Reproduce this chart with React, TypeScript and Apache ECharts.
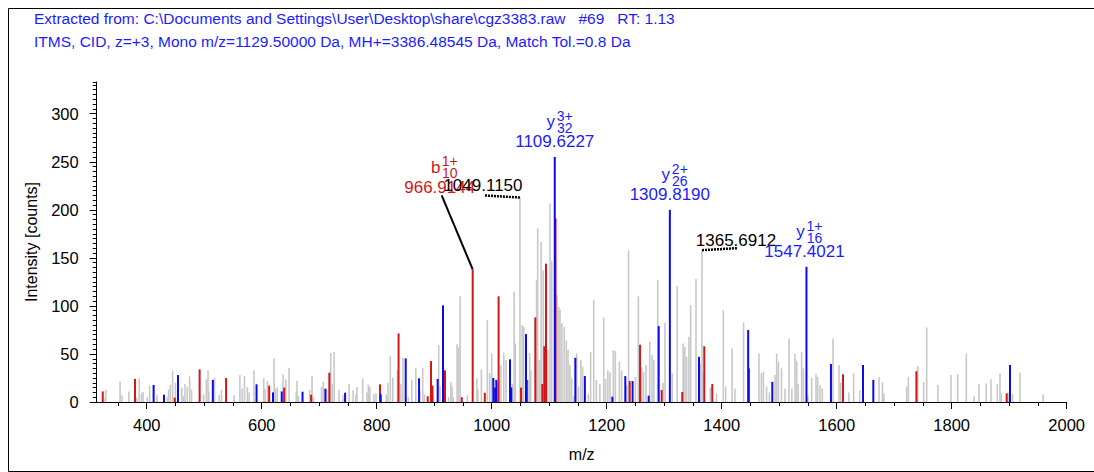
import React, { useEffect, useRef } from 'react';
import * as echarts from 'echarts';

const TITLE_LINE_1 = 'Extracted from: C:\\Documents and Settings\\User\\Desktop\\share\\cgz3383.raw   #69   RT: 1.13';
const TITLE_LINE_2 = 'ITMS, CID, z=+3, Mono m/z=1129.50000 Da, MH+=3386.48545 Da, Match Tol.=0.8 Da';
const X_NAME = 'm/z';
const Y_NAME = 'Intensity [counts]';

const X_MIN = 313;
const X_MAX = 2000;
const Y_MIN = 0;
const Y_MAX = 333;
const X_TICKS = [400, 600, 800, 1000, 1200, 1400, 1600, 1800, 2000];
const X_MINOR_TICKS = [350, 400, 450, 500, 550, 600, 650, 700, 750, 800, 850, 900, 950, 1000, 1050, 1100, 1150, 1200, 1250, 1300, 1350, 1400, 1450, 1500, 1550, 1600, 1650, 1700, 1750, 1800, 1850, 1900, 1950, 2000];
const Y_TICKS = [0, 50, 100, 150, 200, 250, 300];
const Y_MINOR_INTERVAL = 5;

// unassigned peaks [m/z, intensity]
const GRAY_PEAKS = [
  [327.5, 4], [329, 13], [353.6, 21], [357, 7], [369, 11], [383, 4.5], [387, 24.6], [391, 9], [393.6, 10.7],
  [401, 5], [405, 17], [418, 7], [436, 5], [438, 13], [441, 17.7], [445, 33], [450, 20], [461, 15], [464, 6],
  [466.6, 18.7], [470.6, 16], [474.7, 26.7], [478, 13], [499, 8], [503.7, 23.6], [506.6, 33], [508, 11],
  [518, 25], [526, 7], [530, 12.5], [552, 7], [562, 28], [566, 14], [570, 27], [575, 15.6], [578, 10],
  [586.6, 33], [603.5, 24.6], [605.7, 13.5], [610, 22], [621.4, 45.4], [624, 14], [627, 15], [637, 29],
  [642, 23.6], [647.5, 35.4], [660, 11], [661.4, 22], [664, 6], [683.5, 12.5], [687.5, 27], [690, 5],
  [704, 15.6], [707, 21], [713, 13], [720, 51], [722.8, 18.7], [726, 52], [734.4, 12.8], [741, 7],
  [752, 18.7], [759, 12.5], [763.5, 7.6], [765.7, 15.6], [775.6, 24.6], [783, 10], [785.4, 18], [788, 15.6],
  [795, 8], [798.8, 9.4], [816.7, 8], [819.6, 20], [823.7, 48], [828, 25.6], [836, 33], [842, 18.7],
  [845.7, 46], [855, 5], [861, 23], [868, 35], [875, 12], [880, 35.7], [883, 8], [898, 8], [907.8, 59],
  [910, 16], [925, 5], [929, 20.8], [931, 16], [933, 5], [939.7, 60], [942.6, 56.5], [945, 110], [957.6, 7],
  [974, 24.6], [976, 13], [982, 34], [992.4, 85], [996.5, 30], [1000, 50.6], [1010, 21], [1016, 38.5],
  [1021, 51.3], [1025, 43.7], [1036, 19], [1039, 114.7], [1041, 61], [1049.115, 212.8], [1053, 80],
  [1055.6, 78], [1064, 23], [1066, 51], [1068, 33], [1078, 127], [1080, 180.6], [1083, 44], [1086, 166.7],
  [1089.7, 137], [1097.5, 54], [1101.4, 206.6], [1104.4, 147], [1113.6, 111], [1116.5, 99], [1118.8, 95.7],
  [1122, 82], [1126, 78], [1129.7, 64], [1132.7, 54], [1136, 38.5], [1139, 24.6], [1143, 6], [1147.8, 50.6],
  [1151, 16], [1155, 43.7], [1158, 36.7], [1168, 8], [1172, 52], [1177.4, 106], [1182, 23], [1188, 19],
  [1194.8, 87.7], [1198, 24], [1202, 33], [1205.7, 31], [1211.5, 54], [1215, 53], [1222, 42], [1226, 33],
  [1235, 18], [1238, 158], [1250, 26], [1255, 110], [1261, 36], [1264, 31], [1268.3, 38.5], [1274.8, 62.7],
  [1278.8, 49], [1282, 44], [1288.7, 127], [1298, 20], [1301.4, 82.5], [1314, 30], [1322.6, 120.6],
  [1333, 61], [1336, 57], [1339, 47], [1343, 68], [1346, 101], [1355.3, 128], [1363, 40], [1365.6912, 158],
  [1367, 30], [1380, 15], [1391, 9], [1402.8, 95.7], [1407, 16], [1418, 55.8], [1423, 14], [1438, 83],
  [1464.8, 50.6], [1469, 30], [1472.5, 31.5], [1478, 16], [1483, 10], [1492.7, 28], [1495.6, 50.6],
  [1498.6, 42], [1504, 35], [1510, 14], [1517, 66], [1522, 14], [1527.5, 50.6], [1530.4, 43], [1533, 19],
  [1539, 52], [1542, 35], [1550, 7], [1556.5, 25], [1564, 29], [1567, 26], [1571, 17.7], [1575, 14],
  [1593.6, 66], [1604, 38.5], [1607, 20], [1621, 10], [1629.5, 30], [1640, 12], [1673.6, 26], [1679.5, 20.5],
  [1682, 9], [1721.7, 16], [1724.6, 26], [1740, 6], [1741, 37.4], [1751.3, 21], [1756.5, 77.6], [1776, 17.7],
  [1798.8, 28], [1810.4, 29], [1825.4, 50.6], [1839, 6], [1847.5, 18.7], [1860, 19.4], [1868.3, 23.6],
  [1879.3, 18.7], [1884, 30], [1886, 9], [1898, 10], [1906, 8], [1918.8, 30.5], [1959, 8],
];

// b-ion peaks (red)
const B_PEAKS = [
  [323.5, 11], [379.6, 24], [448.7, 4.5], [492, 34], [538, 25], [613, 17], [639, 15], [686, 7.6],
  [717.6, 30.5], [805.7, 18.4], [838, 71.4], [888.7, 6], [894.4, 42.6], [897, 17], [918.8, 33], [948, 5],
  [966.9144, 138], [988, 9.7], [1012, 110], [1051, 15], [1075.8, 88], [1088, 18.7], [1091.5, 58],
  [1094.4, 144], [1111, 191], [1240, 21.8], [1258, 59.6], [1295.6, 12.5], [1331.4, 10.4], [1369.7, 58],
  [1383.6, 18.7], [1447.5, 35], [1611, 28.8], [1738.6, 32], [1895.6, 9],
];

// y-ion peaks (blue)
const Y_PEAKS = [
  [412, 17.7], [430, 7.6], [454.4, 28], [515, 23], [591, 18.4], [619.6, 10], [634.8, 11], [671, 10.7],
  [710.7, 13.9], [745, 9.7], [807, 8], [850.4, 45.4], [873.6, 24.6], [906, 24], [915.3, 100.5],
  [1002.8, 25], [1006, 15], [1008, 23], [1031.8, 44.4], [1034, 15], [1059.6, 70.7], [1061, 23],
  [1109.6227, 255], [1145.4, 46], [1162, 27], [1209.8, 5.5], [1232.3, 27], [1245, 21.8], [1273, 6.6],
  [1290.4, 79], [1309.819, 200], [1360.5, 47], [1446, 75], [1488, 21], [1547.4021, 140.7], [1590, 39.5],
  [1645.7, 38.5], [1663.7, 23], [1901.4, 38.5],
];

// annotated peaks
const ANNOT_MZ = [966.9144, 1049.115, 1109.6227, 1309.819, 1365.6912, 1547.4021];
const ANNOT_INTENSITY = [138, 212.8, 255, 200, 158, 140.7];
const ANNOT_TEXT = ['966.9144', '1049.1150', '1109.6227', '1309.8190', '1365.6912', '1547.4021'];
const ANNOT_ION = ['b', '', 'y', 'y', '', 'y'];
const ANNOT_CHARGE = ['1+', '', '3+', '2+', '', '1+'];
const ANNOT_INDEX = ['10', '', '32', '26', '', '16'];
const ANNOT_KIND = ['b', 'none', 'y', 'y', 'none', 'y'];

const GRAY = '#c8c8c8';
const RED = '#d01818';
const BLUE = '#0a0aee';
const RED_TEXT = '#d01818';
const BLUE_TEXT = '#1c1cff';
const FONT = '"Liberation Sans", Arial, Helvetica, sans-serif';

// label placement (pixel offsets from the peak top): [dx, dy] of the number text centre, and leader line
const LABEL_LAYOUT = [
  { dx: -33, dy: -82, leader: [[-31, -74], [0, 0]], dash: false },
  { dx: -37, dy: -12, leader: [[-35, -2], [0, 0]], dash: true },
  { dx: 0, dy: -15, leader: null, dash: false },
  { dx: 0, dy: -15, leader: null, dash: false },
  { dx: 34, dy: -10, leader: [[0, 0], [35, -2]], dash: true },
  { dx: -2, dy: -15, leader: null, dash: false },
];

function peakSeries(name: string, data: number[][], color: string, width: number, z: number) {
  return {
    type: 'custom',
    name,
    xAxisIndex: 0,
    yAxisIndex: 0,
    z,
    data,
    renderItem: (params: any, api: any) => {
      const top = api.coord([api.value(0), api.value(1)]);
      const base = api.coord([api.value(0), 0]);
      return {
        type: 'rect',
        shape: { x: top[0] - width / 2, y: top[1], width, height: base[1] - top[1] },
        style: { fill: color },
      };
    },
  };
}

export default function App() {
  const ref = useRef<HTMLDivElement>(null);

  useEffect(() => {
    if (!ref.current) return;
    const chart = echarts.init(ref.current, undefined, { renderer: 'svg' });

    const annotData = ANNOT_MZ.map((m, i) => [m, ANNOT_INTENSITY[i]]);

    const option: any = {
      animation: false,
      backgroundColor: '#ffffff',
      textStyle: { fontFamily: FONT },
      grid: { left: 96.7, right: 27.3, top: 82, bottom: 70, containLabel: false },
      xAxis: [
        {
          type: 'value',
          min: X_MIN,
          max: X_MAX,
          name: X_NAME,
          nameLocation: 'middle',
          nameGap: 44,
          nameTextStyle: { color: '#000', fontSize: 16, fontFamily: FONT },
          axisLine: { show: true, lineStyle: { color: '#000', width: 1 } },
          axisTick: { show: true, customValues: X_TICKS, length: 7, lineStyle: { color: '#000', width: 1 } },
          axisLabel: {
            show: true, customValues: X_TICKS, color: '#000', fontSize: 16.5, margin: 14, fontFamily: FONT,
            formatter: (v: number) => String(v),
          },
          splitLine: { show: false },
        },
        {
          type: 'value',
          min: X_MIN,
          max: X_MAX,
          position: 'bottom',
          axisLine: { show: false },
          axisTick: { show: true, customValues: X_MINOR_TICKS, length: 4, lineStyle: { color: '#000', width: 1 } },
          axisLabel: { show: false },
          splitLine: { show: false },
        },
      ],
      yAxis: [
        {
          type: 'value',
          min: Y_MIN,
          max: Y_MAX,
          name: Y_NAME,
          nameLocation: 'middle',
          nameGap: 57,
          nameRotate: 90,
          nameTextStyle: { color: '#000', fontSize: 16, fontFamily: FONT },
          axisLine: { show: true, lineStyle: { color: '#000', width: 1 } },
          axisTick: { show: true, customValues: Y_TICKS, length: 7, lineStyle: { color: '#000', width: 1 } },
          axisLabel: {
            show: true, customValues: Y_TICKS, color: '#000', fontSize: 16.5, margin: 18, fontFamily: FONT,
            formatter: (v: number) => String(v),
          },
          splitLine: { show: false },
        },
        {
          type: 'value',
          min: Y_MIN,
          max: Y_MAX,
          interval: Y_MINOR_INTERVAL,
          position: 'left',
          axisLine: { show: false },
          axisTick: { show: true, length: 4, lineStyle: { color: '#000', width: 1 } },
          axisLabel: { show: false },
          splitLine: { show: false },
        },
      ],
      graphic: [
        {
          type: 'rect',
          left: 6,
          top: 6,
          shape: { x: 0, y: 0, width: 1086, height: 463 },
          style: { fill: 'none', stroke: '#000', lineWidth: 1 },
          silent: true,
          z: -1,
        },
        {
          type: 'text',
          left: 34,
          top: 10,
          style: { text: TITLE_LINE_1, fill: BLUE_TEXT, font: `15.5px ${FONT}` },
        },
        {
          type: 'text',
          left: 34,
          top: 33,
          style: { text: TITLE_LINE_2, fill: BLUE_TEXT, font: `15.5px ${FONT}` },
        },
      ],
      series: [
        peakSeries('unassigned', GRAY_PEAKS, GRAY, 1.6, 2),
        peakSeries('b ions', B_PEAKS, RED, 2, 3),
        peakSeries('y ions', Y_PEAKS, BLUE, 2, 4),
        {
          type: 'custom',
          name: 'annotations',
          xAxisIndex: 0,
          yAxisIndex: 0,
          z: 10,
          clip: false,
          data: annotData,
          renderItem: (params: any, api: any) => {
            const i = params.dataIndex;
            const p = api.coord([api.value(0), api.value(1)]);
            const lay = LABEL_LAYOUT[i];
            const kind = ANNOT_KIND[i];
            const color = kind === 'b' ? RED_TEXT : kind === 'y' ? BLUE_TEXT : '#000';
            const cx = p[0] + lay.dx;
            const cy = p[1] + lay.dy;
            const children: any[] = [];
            if (lay.leader) {
              children.push({
                type: 'line',
                shape: {
                  x1: p[0] + lay.leader[0][0], y1: p[1] + lay.leader[0][1],
                  x2: p[0] + lay.leader[1][0], y2: p[1] + lay.leader[1][1],
                },
                style: { stroke: '#000', lineWidth: lay.dash ? 2.5 : 2, lineDash: lay.dash ? [2, 1] : null },
              });
            }
            children.push({
              type: 'text',
              x: cx,
              y: cy,
              style: {
                text: ANNOT_TEXT[i], fill: color, font: `17px ${FONT}`,
                align: 'center', verticalAlign: 'middle',
              },
            });
            if (ANNOT_ION[i]) {
              children.push({
                type: 'text',
                x: cx - 4,
                y: cy - 20,
                style: { text: ANNOT_ION[i], fill: color, font: `17px ${FONT}`, align: 'center', verticalAlign: 'middle' },
              });
              children.push({
                type: 'text',
                x: cx + 10,
                y: cy - 26,
                style: { text: ANNOT_CHARGE[i], fill: color, font: `14px ${FONT}`, align: 'center', verticalAlign: 'middle' },
              });
              children.push({
                type: 'text',
                x: cx + 10,
                y: cy - 14,
                style: { text: ANNOT_INDEX[i], fill: color, font: `14px ${FONT}`, align: 'center', verticalAlign: 'middle' },
              });
            }
            return { type: 'group', children };
          },
        },
      ],
    };

    chart.setOption(option);
    return () => chart.dispose();
  }, []);

  return (
    <div
      ref={ref}
      style={{ position: 'absolute', left: 0, top: 0, width: 1094, height: 472, background: '#fff' }}
    />
  );
}
